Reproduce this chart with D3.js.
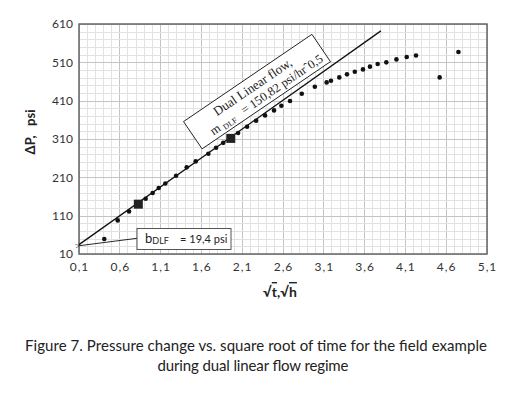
<!DOCTYPE html>
<html lang="en">
<head>
<meta charset="utf-8">
<title>Pressure change vs. square root of time</title>
<script src="https://cdn.jsdelivr.net/npm/d3@7"></script>
<style>
    body { margin: 0; background: #fff; }
    text { font-family: Lato, "Noto Sans", sans-serif; fill: #222; white-space: pre; }
    .tick text { font-size: 12px; fill: #333; }
    .grid line { shape-rendering: crispEdges; }
    .note text { font-family: "Liberation Serif", serif; }
</style>
</head>
<body>
<script>
// measured points: sqrt(t) vs. delta P (psi)
const sqrtT = [0.41, 0.574, 0.713, 0.917, 1.003, 1.077, 1.158, 1.29, 1.42, 1.53, 1.685, 1.78, 1.868,
               2.05, 2.16, 2.27, 2.38, 2.49, 2.58, 2.686, 2.83, 2.99, 3.135, 3.188, 3.29, 3.384,
               3.48, 3.58, 3.666, 3.76, 3.866, 3.99, 4.116, 4.23, 4.52, 4.75];
const deltaP = [49, 97.6, 121, 154, 169, 182, 194, 214, 236, 251.6, 271.7, 287, 300,
                325.7, 342, 357.8, 371.6, 384.6, 396.9, 409, 428, 446.5, 457.7, 462, 470.7, 478.6,
                485.6, 491.6, 498.7, 505.7, 509.9, 517.7, 524, 528, 470.7, 537];

// ends of the dual linear flow interval (big squares)
const fitEndsX = [0.827, 1.96];
const fitEndsY = [140, 311.6];

// dual linear flow straight line
const lineX = [0.1, 3.8];
const lineY = [34.5, 592];

const xTicks = [0.1, 0.6, 1.1, 1.6, 2.1, 2.6, 3.1, 3.6, 4.1, 4.6, 5.1];
const yTicks = [10, 110, 210, 310, 410, 510, 610];

const W = 527, H = 399;
const plot = {left: 79, right: 487, top: 24, bottom: 254};

const x = d3.scaleLinear().domain([0.1, 5.1]).range([plot.left, plot.right]);
const y = d3.scaleLinear().domain([10, 610]).range([plot.bottom, plot.top]);

const svg = d3.select("body").append("svg")
    .attr("width", W)
    .attr("height", H);

// grid
const grid = svg.append("g").attr("class", "grid");
const xMinor = d3.range(0, 51).map(i => 0.1 + i * 0.1);
const yMinor = d3.range(0, 31).map(i => 10 + i * 20);
grid.selectAll("line.vx")
    .data(xMinor)
    .join("line")
    .attr("x1", d => x(d)).attr("x2", d => x(d))
    .attr("y1", plot.top).attr("y2", plot.bottom)
    .attr("stroke", (d, i) => i % 5 === 0 ? "#c4c4c4" : "#e2e2e2")
    .attr("stroke-width", 1);
grid.selectAll("line.hy")
    .data(yMinor)
    .join("line")
    .attr("class", "hy")
    .attr("y1", d => Math.round(y(d)) + 0.5).attr("y2", d => Math.round(y(d)) + 0.5)
    .attr("x1", plot.left).attr("x2", plot.right)
    .attr("stroke", (d, i) => i % 5 === 0 ? "#c4c4c4" : "#e2e2e2")
    .attr("stroke-width", 1);

// axes
const fmt = d => String(d).replace(".", ", ").replace(", ", ",");
svg.append("g")
    .attr("transform", `translate(0,${plot.bottom})`)
    .call(d3.axisBottom(x).tickValues(xTicks).tickFormat(fmt).tickSize(0).tickPadding(8))
    .call(g => g.select(".domain").remove())
    .call(g => g.selectAll(".tick text").style("letter-spacing", "1px"));
svg.append("g")
    .attr("transform", `translate(${plot.left},0)`)
    .call(d3.axisLeft(y).tickValues(yTicks).tickSize(0).tickPadding(6))
    .call(g => g.select(".domain").remove());

svg.append("rect")
    .attr("x", plot.left).attr("y", plot.top)
    .attr("width", plot.right - plot.left).attr("height", plot.bottom - plot.top)
    .attr("fill", "none")
    .attr("stroke", "#666")
    .attr("stroke-width", 1.5);

// axis titles
svg.append("text")
    .attr("transform", "translate(35,132) rotate(-90)")
    .attr("text-anchor", "middle")
    .style("font-size", "13px")
    .style("font-weight", "bold")
    .text("\u0394P,   psi");

const xt = svg.append("text")
    .attr("x", 280).attr("y", 297)
    .attr("text-anchor", "middle")
    .style("font-size", "14px")
    .style("font-weight", "bold");
xt.append("tspan").text("\u221A");
xt.append("tspan").style("text-decoration", "overline").text("t");
xt.append("tspan").text(",\u221A");
xt.append("tspan").style("text-decoration", "overline").text("h");

// fitted line
svg.append("path")
    .datum(d3.zip(lineX, lineY))
    .attr("d", d3.line().x(d => x(d[0])).y(d => y(d[1])))
    .attr("stroke", "#111")
    .attr("stroke-width", 1.3)
    .attr("fill", "none");

// points
svg.append("g")
    .selectAll("circle")
    .data(d3.zip(sqrtT, deltaP))
    .join("circle")
    .attr("cx", d => x(d[0]))
    .attr("cy", d => y(d[1]))
    .attr("r", 2.3)
    .attr("fill", "#111");

svg.append("g")
    .selectAll("rect")
    .data(d3.zip(fitEndsX, fitEndsY))
    .join("rect")
    .attr("x", d => x(d[0]) - 4.5)
    .attr("y", d => y(d[1]) - 4.5)
    .attr("width", 9).attr("height", 9)
    .attr("fill", "#222");

// rotated note for the slope
const note = svg.append("g")
    .attr("class", "note")
    .attr("transform", "translate(257,91.6) rotate(-34.2)");
note.append("rect")
    .attr("x", -77.6).attr("y", -16.5)
    .attr("width", 155.2).attr("height", 33)
    .attr("fill", "#fff")
    .attr("stroke", "#222")
    .attr("stroke-width", 0.9);
note.append("text")
    .attr("x", -1).attr("y", -2)
    .attr("text-anchor", "middle")
    .style("font-size", "13px")
    .text("Dual Linear flow,");
const m = note.append("text")
    .attr("x", 6).attr("y", 12)
    .attr("text-anchor", "middle")
    .style("font-size", "12.5px");
m.append("tspan").text("m ");
m.append("tspan").attr("dy", 2).style("font-size", "8px").text("DLF");
m.append("tspan").attr("dy", -2).text("   = 150,82 psi/hr\u02C60,5");

// intercept note with arrow
svg.append("defs").append("marker")
    .attr("id", "arr")
    .attr("viewBox", "0 0 10 10")
    .attr("refX", 0).attr("refY", 5)
    .attr("markerWidth", 7).attr("markerHeight", 5)
    .attr("orient", "auto-start-reverse")
    .append("path")
    .attr("d", "M10,1L0,5L10,9")
    .attr("fill", "none")
    .attr("stroke", "#111");
svg.append("line")
    .attr("x1", 137).attr("y1", 238.3)
    .attr("x2", x(0.1) + 1).attr("y2", y(lineY[0]) + 1)
    .attr("stroke", "#111")
    .attr("stroke-width", 0.9)
    .attr("marker-end", "url(#arr)");
svg.append("rect")
    .attr("x", 137).attr("y", 228.5)
    .attr("width", 94).attr("height", 21)
    .attr("fill", "#fff")
    .attr("stroke", "#444")
    .attr("stroke-width", 0.9);
const b = svg.append("text")
    .attr("x", 145).attr("y", 243)
    .style("font-size", "13px");
b.append("tspan").text("b");
b.append("tspan").attr("dy", 1).style("font-size", "9px").text("DLF");
b.append("tspan").attr("dy", -1).style("font-size", "11px").text("    = 19,4 psi");

// caption
const cap = svg.append("text")
    .attr("text-anchor", "middle")
    .style("font-size", "15px");
cap.append("tspan").attr("x", 256).attr("y", 351)
    .attr("textLength", 462).attr("lengthAdjust", "spacing")
    .text("Figure 7. Pressure change vs. square root of time for the field example");
cap.append("tspan").attr("x", 253).attr("y", 371)
    .attr("textLength", 191).attr("lengthAdjust", "spacing")
    .text("during dual linear flow regime");
</script>
</body>
</html>
